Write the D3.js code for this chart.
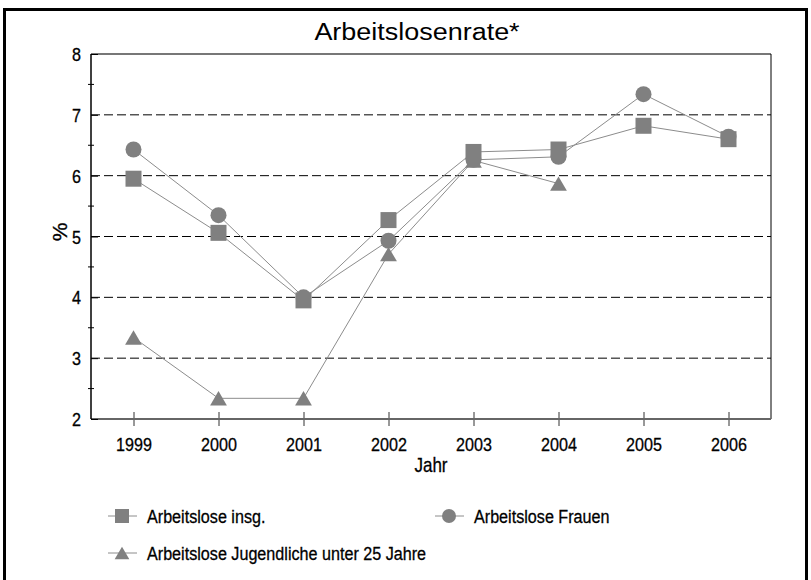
<!DOCTYPE html>
<html>
<meta charset="utf-8">
<head>
<title>Arbeitslosenrate</title>
<script src="https://cdn.jsdelivr.net/npm/d3@7"></script>
<style>
body { margin: 0; background: #fff; }
text { font-family: "Liberation Sans", Arial, Helvetica, sans-serif; fill: #000; }
.cond { stroke: #000; stroke-width: 0.3px; }
</style>
</head>
<body>
<div id="grafico"></div>
<script>
// datos
var jahre = [1999, 2000, 2001, 2002, 2003, 2004, 2005, 2006];
var insgesamt = [5.95, 5.06, 3.95, 5.27, 6.39, 6.43, 6.82, 6.60];
var frauen = [6.43, 5.35, 4.00, 4.93, 6.26, 6.31, 7.34, 6.64];
var jugendliche = [3.34, 2.34, 2.34, 4.71, 6.25, 5.87, null, null];
var yTicks = [2, 3, 4, 5, 6, 7, 8];
var series = [
	{name: "Arbeitslose insg.", values: insgesamt, shape: "square"},
	{name: "Arbeitslose Frauen", values: frauen, shape: "circle"},
	{name: "Arbeitslose Jugendliche unter 25 Jahre", values: jugendliche, shape: "triangle"}
];

var width = 811, height = 580;
var margin = {top: 54, right: 40, bottom: 161, left: 91};
var pw = width - margin.left - margin.right,
	ph = height - margin.top - margin.bottom;
var grau = "#808080";
var schmal = 0.85; // letra angosta (condensed)

var svg = d3.select("#grafico").append("svg")
	.attr("width", width)
	.attr("height", height);

// marco exterior
svg.append("rect")
	.attr("x", 4.5).attr("y", 9.5)
	.attr("width", 802).attr("height", 600)
	.attr("fill", "none").attr("stroke", "#000").attr("stroke-width", 3);

var x = d3.scalePoint()
	.domain(jahre)
	.range([0, pw])
	.padding(0.5);

var y = d3.scaleLinear()
	.domain([2, 8])
	.range([ph, 0]);

var g = svg.append("g")
	.attr("transform", "translate(" + margin.left + "," + margin.top + ")");

// lineas de grilla punteadas
g.selectAll(".grid")
	.data(yTicks.filter(function(d) { return d > 2 && d < 8; }))
  .enter().append("line")
	.attr("x1", 0).attr("x2", pw)
	.attr("y1", function(d) { return y(d); })
	.attr("y2", function(d) { return y(d); })
	.attr("stroke", "#000")
	.attr("stroke-dasharray", "9,4");

// borde arriba y derecha
g.append("line").attr("x1", 0).attr("x2", pw).attr("y1", 0).attr("y2", 0)
	.attr("stroke", "#777").attr("stroke-width", 2);
g.append("line").attr("x1", pw).attr("x2", pw).attr("y1", 0).attr("y2", ph)
	.attr("stroke", "#000").attr("stroke-width", 1);

// eje x
var xAxis = g.append("g")
	.attr("transform", "translate(0," + ph + ")")
	.call(d3.axisBottom(x).tickSize(7).tickPadding(12));
xAxis.select(".domain").remove();
xAxis.append("line").attr("x1", 0).attr("x2", pw)
	.attr("stroke", "#666").attr("stroke-width", 2);
xAxis.selectAll(".tick line").attr("y1", -7).attr("stroke", "#333");
xAxis.selectAll("text")
	.attr("class", "cond")
	.style("font-size", "19px")
	.attr("fill", "#000")
	.attr("transform", "scale(" + schmal + ",1)");

// eje y
var yAxis = g.append("g")
	.call(d3.axisLeft(y).tickValues(yTicks).tickSize(7).tickPadding(3).tickFormat(d3.format("d")));
yAxis.select(".domain").remove();
yAxis.append("line").attr("x1", 0).attr("x2", 0).attr("y1", 0).attr("y2", ph)
	.attr("stroke", "#000").attr("stroke-width", 1.5);
yAxis.selectAll(".tick line").attr("x2", 7).attr("stroke", "#000");
yAxis.selectAll("text")
	.attr("class", "cond")
	.style("font-size", "19px")
	.attr("fill", "#000")
	.attr("dy", "0.35em")
	.attr("x", -10 / schmal)
	.attr("transform", "scale(" + schmal + ",1)");

// ticks menores
g.selectAll(".minor")
	.data(d3.range(2.5, 8, 1))
  .enter().append("line")
	.attr("x1", -3).attr("x2", 3)
	.attr("y1", function(d) { return y(d); })
	.attr("y2", function(d) { return y(d); })
	.attr("stroke", "#000");

// titulos
svg.append("text")
	.attr("transform", "translate(417,40) scale(1.1,1)")
	.attr("text-anchor", "middle")
	.style("font-size", "24.5px")
	.text("Arbeitslosenrate*");

svg.append("text")
	.attr("class", "cond")
	.attr("transform", "translate(" + (margin.left + pw / 2) + ",472) scale(" + schmal + ",1)")
	.attr("text-anchor", "middle")
	.style("font-size", "20px")
	.text("Jahr");

svg.append("text")
	.attr("class", "cond")
	.attr("transform", "translate(67,232) rotate(-90)")
	.attr("text-anchor", "middle")
	.style("font-size", "21px")
	.text("%");

// forma de los marcadores
var marca = function(shape, s) {
	var h = s / 2;
	if (shape == "square") return "M" + (-h) + "," + (-h) + "h" + s + "v" + s + "h" + (-s) + "Z";
	if (shape == "circle") return d3.symbol(d3.symbolCircle, Math.PI * h * h)();
	return "M0," + (-h * 0.9) + "L" + (h * 1.05) + "," + (h * 0.9) + "L" + (-h * 1.05) + "," + (h * 0.9) + "Z";
};

var linea = d3.line()
	.defined(function(d) { return d[1] != null; })
	.x(function(d) { return x(d[0]); })
	.y(function(d) { return y(d[1]); });

series.forEach(function(s) {
	var pts = jahre.map(function(j, i) { return [j, s.values[i]]; });
	g.append("path")
		.datum(pts)
		.attr("fill", "none")
		.attr("stroke", "#8c8c8c")
		.attr("stroke-width", 1)
		.attr("d", linea);
});

series.forEach(function(s) {
	var pts = jahre.map(function(j, i) { return [j, s.values[i]]; })
		.filter(function(d) { return d[1] != null; });
	g.selectAll(null)
		.data(pts)
	  .enter().append("path")
		.attr("transform", function(d) { return "translate(" + x(d[0]) + "," + y(d[1]) + ")"; })
		.attr("d", marca(s.shape, 16))
		.attr("fill", grau);
});

// leyenda
var leyPos = [[122, 516], [449, 516], [122, 553]];
var ley = svg.selectAll(".ley")
	.data(series)
  .enter().append("g")
	.attr("class", "ley")
	.attr("transform", function(d, i) { return "translate(" + leyPos[i][0] + "," + leyPos[i][1] + ")"; });
ley.append("line")
	.attr("x1", -14).attr("x2", 15)
	.attr("stroke", "#8c8c8c");
ley.append("path")
	.attr("d", function(d) { return marca(d.shape, 14); })
	.attr("fill", grau);
ley.append("text")
	.attr("class", "cond")
	.attr("transform", "translate(25,0) scale(" + schmal + ",1)")
	.attr("dy", "0.35em")
	.style("font-size", "19px")
	.text(function(d) { return d.name; });
</script>
</body>
</html>
